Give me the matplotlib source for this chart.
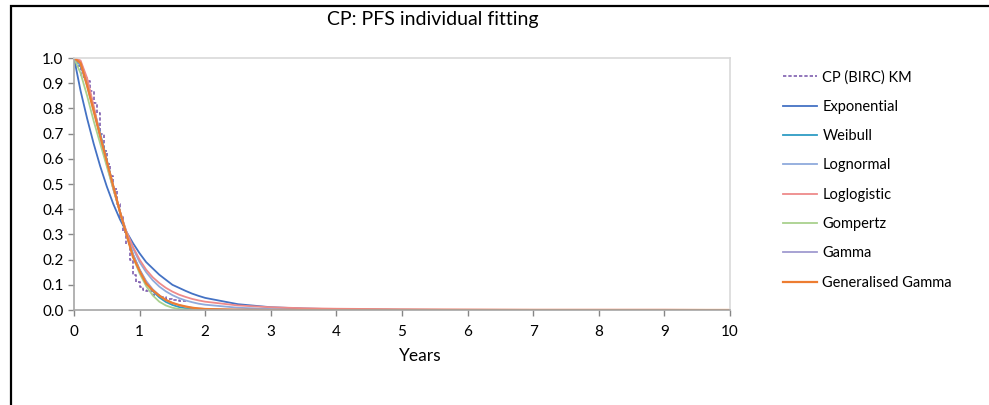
import matplotlib.pyplot as plt
from matplotlib.patches import Rectangle

plt.rcParams['font.family'] = ['Lato', 'DejaVu Sans']

# Tid i år for de tilpassede kurvene
years = [0.0, 0.1, 0.2, 0.3, 0.4, 0.5, 0.6, 0.7, 0.8, 0.9, 1.0,
         1.1, 1.2, 1.3, 1.4, 1.5, 1.6, 1.7, 1.8, 1.9, 2.0,
         2.5, 3.0, 3.5, 4.0, 5.0, 6.0, 7.0, 8.0, 9.0, 10.0]

exponential = [1.0, 0.87, 0.76, 0.66, 0.57, 0.49, 0.42, 0.36, 0.31, 0.265, 0.225,
               0.19, 0.165, 0.14, 0.12, 0.10, 0.088, 0.076, 0.065, 0.056, 0.048,
               0.023, 0.011, 0.006, 0.003, 0.001, 0.0, 0.0, 0.0, 0.0, 0.0]
weibull = [1.0, 0.97, 0.90, 0.80, 0.70, 0.595, 0.49, 0.39, 0.30, 0.22, 0.16,
           0.11, 0.075, 0.05, 0.032, 0.02, 0.012, 0.007, 0.004, 0.002, 0.001,
           0.0, 0.0, 0.0, 0.0, 0.0, 0.0, 0.0, 0.0, 0.0, 0.0]
lognormal = [1.0, 0.985, 0.91, 0.80, 0.69, 0.58, 0.48, 0.39, 0.31, 0.245, 0.19,
             0.15, 0.118, 0.093, 0.074, 0.059, 0.047, 0.038, 0.031, 0.025, 0.021,
             0.009, 0.004, 0.002, 0.001, 0.0, 0.0, 0.0, 0.0, 0.0, 0.0]
loglogistic = [1.0, 0.99, 0.92, 0.81, 0.69, 0.58, 0.48, 0.39, 0.31, 0.25, 0.20,
               0.16, 0.13, 0.107, 0.088, 0.073, 0.061, 0.052, 0.044, 0.038, 0.033,
               0.018, 0.011, 0.007, 0.005, 0.003, 0.002, 0.001, 0.001, 0.001, 0.0]
gompertz = [1.0, 0.94, 0.85, 0.75, 0.66, 0.57, 0.48, 0.39, 0.30, 0.21, 0.145,
            0.095, 0.058, 0.033, 0.018, 0.009, 0.004, 0.002, 0.001, 0.0, 0.0,
            0.0, 0.0, 0.0, 0.0, 0.0, 0.0, 0.0, 0.0, 0.0, 0.0]
gamma = [1.0, 0.975, 0.89, 0.79, 0.69, 0.59, 0.49, 0.39, 0.30, 0.22, 0.16,
         0.115, 0.082, 0.058, 0.04, 0.028, 0.019, 0.013, 0.009, 0.006, 0.004,
         0.001, 0.0, 0.0, 0.0, 0.0, 0.0, 0.0, 0.0, 0.0, 0.0]
gen_gamma = [1.0, 0.98, 0.89, 0.79, 0.69, 0.59, 0.49, 0.39, 0.30, 0.21, 0.155,
             0.105, 0.078, 0.057, 0.04, 0.028, 0.02, 0.014, 0.009, 0.006, 0.004,
             0.001, 0.0, 0.0, 0.0, 0.0, 0.0, 0.0, 0.0, 0.0, 0.0]

# Kaplan-Meier (trappefunksjon)
km_years = [0.0, 0.05, 0.1, 0.15, 0.2, 0.25, 0.3, 0.35, 0.4, 0.45, 0.5, 0.55, 0.6,
            0.65, 0.7, 0.75, 0.8, 0.85, 0.9, 0.95, 1.0, 1.05, 1.1, 1.2, 1.3, 1.4,
            1.5, 1.6, 1.7]
km_surv = [1.0, 0.97, 0.93, 0.92, 0.91, 0.87, 0.82, 0.78, 0.70, 0.63, 0.58, 0.53, 0.48,
           0.42, 0.37, 0.31, 0.26, 0.20, 0.14, 0.11, 0.09, 0.08, 0.075, 0.06, 0.05, 0.045,
           0.04, 0.035, 0.035]

models = [
    ('Exponential', exponential, '#4472C4', 1.3),
    ('Weibull', weibull, '#2E9CC4', 1.3),
    ('Lognormal', lognormal, '#8FAADC', 1.3),
    ('Loglogistic', loglogistic, '#EE8A8A', 1.3),
    ('Gompertz', gompertz, '#A9D18E', 1.3),
    ('Gamma', gamma, '#A09BD0', 1.3),
    ('Generalised Gamma', gen_gamma, '#ED7D31', 1.6),
]

fig = plt.figure(figsize=(9.89, 4.05), dpi=100)
ax = fig.add_axes([74 / 989, 95 / 405, 656 / 989, 252 / 405])

ax.plot(km_years, km_surv, color='#7F5FAF', linestyle=(0, (2, 1.2)), linewidth=1.2,
        drawstyle='steps-post', label='CP (BIRC) KM')
for name, vals, col, lw in models:
    ax.plot(years, vals, color=col, linewidth=lw, label=name)

ax.set_xlim(0, 10)
ax.set_ylim(0, 1.0)
ax.set_xticks(range(0, 11))
ax.set_yticks([i / 10 for i in range(11)])
ax.set_yticklabels(['%.1f' % (i / 10) for i in range(11)])
ax.tick_params(axis='both', labelsize=11, colors='#868686', labelcolor='#000000',
               length=4, width=1)
ax.tick_params(axis='x', pad=7)
for side in ['left', 'bottom']:
    ax.spines[side].set_color('#A6A6A6')
    ax.spines[side].set_linewidth(1.2)
for side in ['top', 'right']:
    ax.spines[side].set_color('#D9D9D9')
    ax.spines[side].set_linewidth(1.2)

ax.set_xlabel('Years', fontsize=12.5)
ax.xaxis.set_label_coords(346 / 656, -0.15)
fig.text(433 / 989, 1 - 20 / 405, 'CP: PFS individual fitting', fontsize=14,
         ha='center', va='center')

leg = ax.legend(loc='upper left', bbox_to_anchor=(770 / 989, 1 - 57 / 405),
                bbox_transform=fig.transFigure, frameon=False, fontsize=10.5,
                handlelength=2.3, handletextpad=0.4, labelspacing=1.05)

# Svart ramme rundt diagrammet
fig.add_artist(Rectangle((11 / 989, -0.05), 1.1, 1.05 - 6 / 405, transform=fig.transFigure,
                         fill=False, edgecolor='#000000', linewidth=1.6))

plt.savefig('out.png', dpi=100)
